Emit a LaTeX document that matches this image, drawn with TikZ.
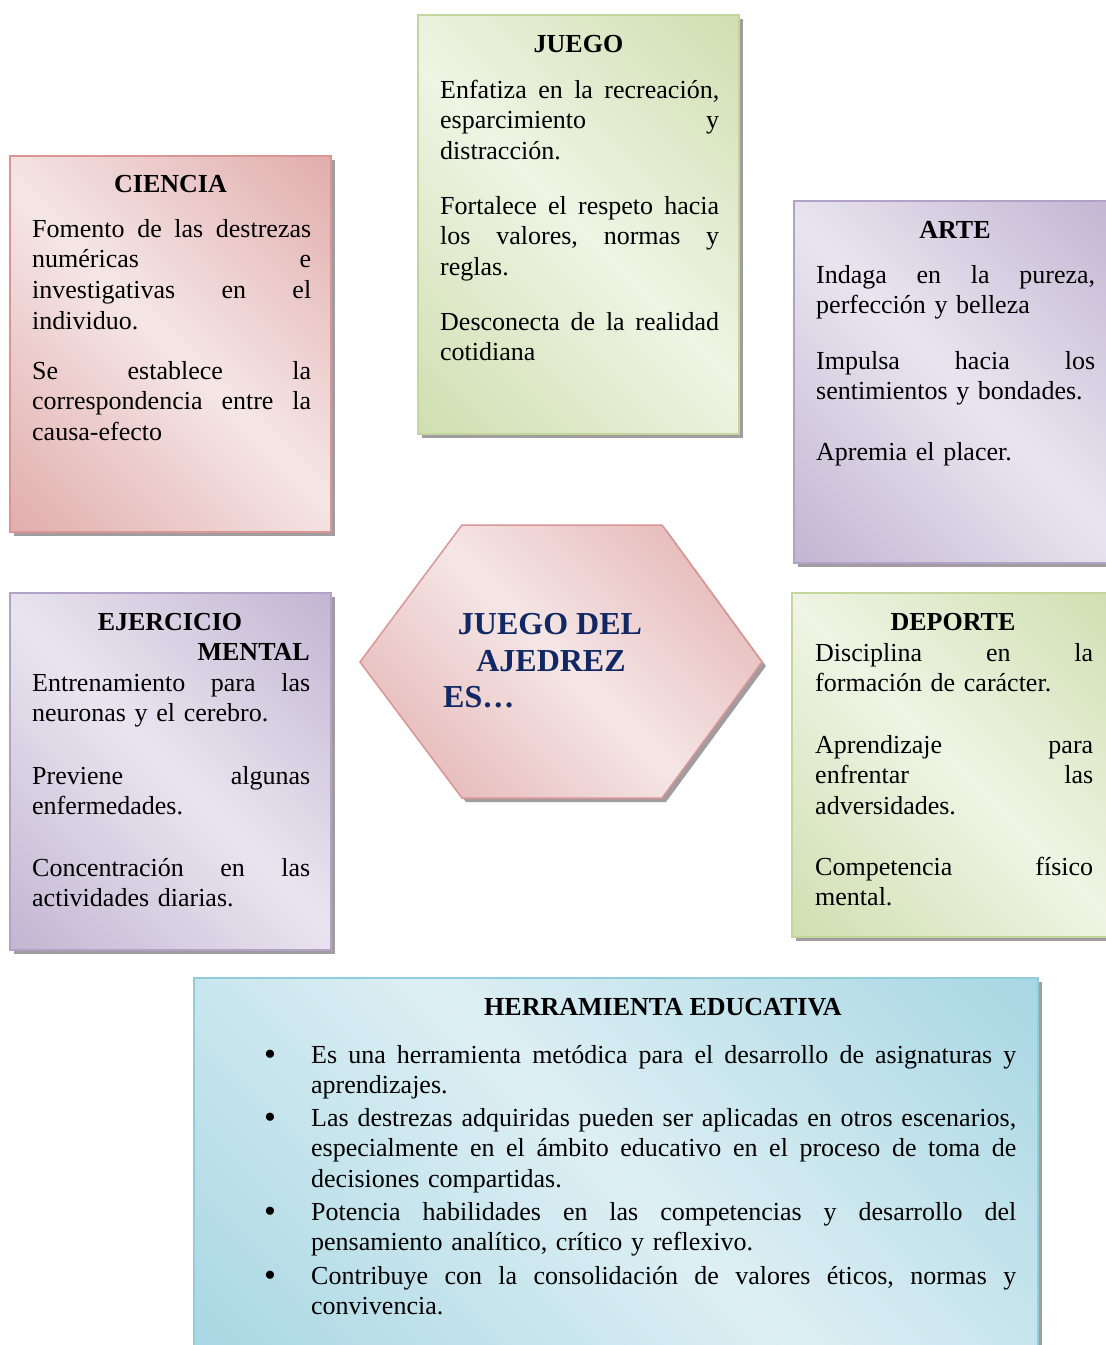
\documentclass[tikz,border=0pt]{standalone}
\usepackage{fontspec}
\setmainfont{Liberation Serif}
\definecolor{pinkD}{HTML}{D99694}
\definecolor{pinkL}{HTML}{F5E6E6}
\definecolor{greenD}{HTML}{C3D69B}
\definecolor{greenL}{HTML}{EFF4E4}
\definecolor{purD}{HTML}{B2A2C7}
\definecolor{purL}{HTML}{E9E5EF}
\definecolor{blueD}{HTML}{92CDDC}
\definecolor{blueL}{HTML}{DDEFF4}
\definecolor{shadowc}{HTML}{A09CA0}
\definecolor{navy}{RGB}{16,40,100}
\pgfdeclarehorizontalshading{pinkdiag}{100bp}{color(0bp)=(pinkD); color(50bp)=(pinkL); color(100bp)=(pinkD)}
\pgfdeclarehorizontalshading{greendiag}{100bp}{color(0bp)=(greenD); color(50bp)=(greenL); color(100bp)=(greenD)}
\pgfdeclarehorizontalshading{purdiag}{100bp}{color(0bp)=(purD); color(50bp)=(purL); color(100bp)=(purD)}
\pgfdeclarehorizontalshading{bluediag}{100bp}{color(0bp)=(blueD); color(50bp)=(blueL); color(100bp)=(blueD)}
\newcommand\J[2][279pt]{\leavevmode\hbox to #1{\frenchspacing\spaceskip=0.25em plus 1fil\relax #2}}
\tikzset{
  body/.style={anchor=base west, inner sep=0pt, text width=#1, align=left,
    font=\fontsize{26}{30.7}\selectfont},
  body/.default=279pt,
  head/.style={anchor=base, inner sep=0pt, font=\fontsize{26}{30.7}\selectfont\bfseries},
  bul/.style={anchor=base, inner sep=0pt, font=\fontsize{34}{30.7}\selectfont},
  card/.style={shading=#1, shading angle=45, line width=1.8pt},
  shadowfill/.style={fill=shadowc},
  hexfont/.style={inner sep=0pt, text=navy, font=\fontsize{32}{37}\selectfont\bfseries},
}
\begin{document}
\begin{tikzpicture}[x=1pt,y=-1pt]
\useasboundingbox (0,0) rectangle (1106,1345);
\clip (0,0) rectangle (1106,1345);
\fill[white] (0,0) rectangle (1106,1345);

% ---------- CIENCIA ----------
\fill[shadowfill] (14,160) rectangle (335,536);
\path[card=pinkdiag, draw=pinkD] (10,156) rectangle (331,532);
\node[head] (cienciaH) at (170.5,192) {CIENCIA};
\node[body] (ciencia1) at (32,237) {\J{Fomento de las destrezas}\\\J{numéricas e}\\\J{investigativas en el}\\individuo.};
\node[body] (ciencia2) at (32,379) {\J{Se establece la}\\\J{correspondencia entre la}\\causa-efecto};

% ---------- JUEGO ----------
\fill[shadowfill] (422,19) rectangle (743,438);
\path[card=greendiag, draw=greenD] (418,15) rectangle (739,434);
\node[head] (juegoH) at (578.5,52) {JUEGO};
\node[body] (juego1) at (440,98) {\J{Enfatiza en la recreación,}\\\J{esparcimiento y}\\distracción.};
\node[body] (juego2) at (440,214) {\J{Fortalece el respeto hacia}\\\J{los valores, normas y}\\reglas.};
\node[body] (juego3) at (440,330) {\J{Desconecta de la realidad}\\cotidiana};

% ---------- ARTE ----------
\fill[shadowfill] (798,205) rectangle (1120,567);
\path[card=purdiag, draw=purD] (794,201) rectangle (1116,563);
\node[head] (arteH) at (955,238) {ARTE};
\node[body] (arte1) at (816,283) {\J{Indaga en la pureza,}\\perfección y belleza};
\node[body] (arte2) at (816,369) {\J{Impulsa hacia los}\\sentimientos y bondades.};
\node[body] (arte3) at (816,460) {Apremia el placer.};

% ---------- EJERCICIO MENTAL ----------
\fill[shadowfill] (14,597) rectangle (335,954);
\path[card=purdiag, draw=purD] (10,593) rectangle (331,950);
\node[head] (ejerH1) at (170,630) {EJERCICIO};
\node[head, anchor=base east] (ejerH2) at (310,660) {MENTAL};
\node[body] (ejer1) at (32,691) {\J[278pt]{Entrenamiento para las}\\neuronas y el cerebro.};
\node[body] (ejer2) at (32,784) {\J[278pt]{Previene algunas}\\enfermedades.};
\node[body] (ejer3) at (32,876) {\J[278pt]{Concentración en las}\\actividades diarias.};

% ---------- DEPORTE ----------
\fill[shadowfill] (796,597) rectangle (1120,941);
\path[card=greendiag, draw=greenD] (792,593) rectangle (1116,937);
\node[head] (depH) at (953,630) {DEPORTE};
\node[body=278pt] (dep1) at (815,661) {\J[278pt]{Disciplina en la}\\formación de carácter.};
\node[body=278pt] (dep2) at (815,753) {\J[278pt]{Aprendizaje para}\\\J[278pt]{enfrentar las}\\adversidades.};
\node[body=278pt] (dep3) at (815,875) {\J[278pt]{Competencia físico}\\mental.};

% ---------- HEXAGON ----------
\fill[shadowfill] (364,666) -- (466,529) -- (666,529) -- (766,666) -- (666,802) -- (466,802) -- cycle;
\path[card=pinkdiag, draw=pinkD, line width=1.5pt] (360,662) -- (462,525) -- (662,525) -- (762,662) -- (662,798) -- (462,798) -- cycle;
\node[hexfont, anchor=base] (hex1) at (550,634) {JUEGO DEL};
\node[hexfont, anchor=base] (hex2) at (551,671) {AJEDREZ};
\node[hexfont, anchor=base west] (hex3) at (443,707) {ES…};

% ---------- HERRAMIENTA EDUCATIVA ----------
\fill[shadowfill] (198,982) rectangle (1042,1365);
\path[card=bluediag, draw=blueD] (194,978) rectangle (1038,1361);
\node[head] (herrH) at (663,1015) {HERRAMIENTA EDUCATIVA};
\node[bul] (b1) at (270,1065) {•};
\node[body=705pt] (h1) at (311,1063) {\J[705pt]{Es una herramienta metódica para el desarrollo de asignaturas y}\\aprendizajes.};
\node[bul] (b2) at (270,1128) {•};
\node[body=705pt] (h2) at (311,1126) {\J[705pt]{Las destrezas adquiridas pueden ser aplicadas en otros escenarios,}\\\J[705pt]{especialmente en el ámbito educativo en el proceso de toma de}\\decisiones compartidas.};
\node[bul] (b3) at (270,1222) {•};
\node[body=705pt] (h3) at (311,1220) {\J[705pt]{Potencia habilidades en las competencias y desarrollo del}\\pensamiento analítico, crítico y reflexivo.};
\node[bul] (b4) at (270,1286) {•};
\node[body=705pt] (h4) at (311,1284) {\J[705pt]{Contribuye con la consolidación de valores éticos, normas y}\\convivencia.};
\end{tikzpicture}
\end{document}
